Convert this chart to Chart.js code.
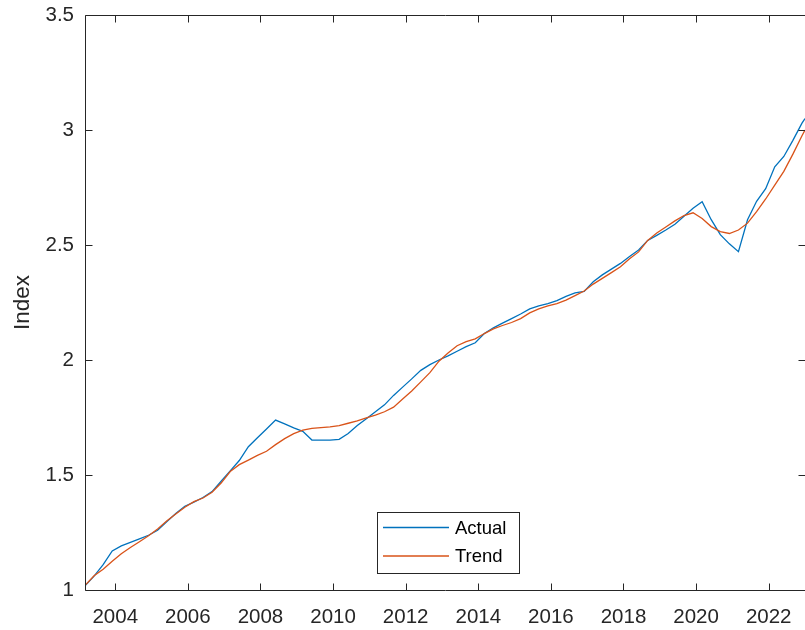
<!DOCTYPE html>
<html>
<head>
<meta charset="utf-8">
<script src="https://cdn.jsdelivr.net/npm/chart.js@4/dist/chart.umd.min.js"></script>
<style>
  html, body { margin: 0; padding: 0; background: #ffffff; overflow: hidden; }
  #wrap { width: 805px; height: 630px; overflow: hidden; }
  canvas { display: block; }
</style>
</head>
<body>
<div id="wrap"><canvas id="c" width="806" height="630"></canvas></div>
<script>
// Quarterly observation months (YYYY-MM)
const dates = [
  "2003-03","2003-06","2003-09","2003-12",
  "2004-03","2004-06","2004-09","2004-12",
  "2005-03","2005-06","2005-09","2005-12",
  "2006-03","2006-06","2006-09","2006-12",
  "2007-03","2007-06","2007-09","2007-12",
  "2008-03","2008-06","2008-09","2008-12",
  "2009-03","2009-06","2009-09","2009-12",
  "2010-03","2010-06","2010-09","2010-12",
  "2011-03","2011-06","2011-09","2011-12",
  "2012-03","2012-06","2012-09","2012-12",
  "2013-03","2013-06","2013-09","2013-12",
  "2014-03","2014-06","2014-09","2014-12",
  "2015-03","2015-06","2015-09","2015-12",
  "2016-03","2016-06","2016-09","2016-12",
  "2017-03","2017-06","2017-09","2017-12",
  "2018-03","2018-06","2018-09","2018-12",
  "2019-03","2019-06","2019-09","2019-12",
  "2020-03","2020-06","2020-09","2020-12",
  "2021-03","2021-06","2021-09","2021-12",
  "2022-03","2022-06","2022-09","2022-12",
  "2023-01"
];

const actual = [
  1.018, 1.060, 1.110, 1.170,
  1.192, 1.207, 1.222, 1.238,
  1.260, 1.297, 1.333, 1.364,
  1.382, 1.402, 1.428, 1.473,
  1.518, 1.563, 1.623, 1.662,
  1.700, 1.739, 1.722, 1.705,
  1.690, 1.652, 1.652, 1.652,
  1.655, 1.680, 1.715, 1.745,
  1.775, 1.805, 1.846, 1.882,
  1.918, 1.955, 1.980, 2.000,
  2.018, 2.038, 2.058, 2.075,
  2.115, 2.140, 2.160, 2.180,
  2.200, 2.222, 2.235, 2.245,
  2.258, 2.277, 2.292, 2.298,
  2.340, 2.370, 2.395, 2.420,
  2.450, 2.478, 2.520, 2.542,
  2.565, 2.590, 2.625, 2.660,
  2.688, 2.610, 2.545, 2.505,
  2.471, 2.610, 2.690, 2.745,
  2.840, 2.885, 2.955, 3.030,
  3.050
];

const trend = [
  1.020, 1.062, 1.090, 1.125,
  1.158, 1.185, 1.210, 1.236,
  1.265, 1.300, 1.330, 1.360,
  1.384, 1.400, 1.425, 1.465,
  1.515, 1.545, 1.565, 1.585,
  1.603, 1.632, 1.658, 1.680,
  1.695, 1.703, 1.706, 1.709,
  1.715, 1.725, 1.735, 1.748,
  1.760, 1.775, 1.795, 1.830,
  1.865, 1.905, 1.945, 1.995,
  2.030, 2.062, 2.080, 2.092,
  2.115, 2.135, 2.150, 2.163,
  2.180, 2.205, 2.222, 2.235,
  2.245, 2.260, 2.280, 2.300,
  2.330, 2.355, 2.380, 2.405,
  2.440, 2.470, 2.520, 2.552,
  2.578, 2.605, 2.628, 2.640,
  2.615, 2.580, 2.558, 2.550,
  2.565, 2.595, 2.645, 2.700,
  2.760, 2.820, 2.895, 2.975,
  3.000
];

const xTicks = [2004, 2006, 2008, 2010, 2012, 2014, 2016, 2018, 2020, 2022];
const yTicks = [1, 1.5, 2, 2.5, 3, 3.5];
const seriesNames = ["Actual", "Trend"];

function toYear(s) {
  const [y, m] = s.split("-").map(Number);
  return y + (m - 1) / 12;
}
const xs = dates.map(toYear);

const AXIS = "#262626";
const FONT = "'Liberation Sans', Arial, Helvetica, sans-serif";

const boxPlugin = {
  id: "matlabBox",
  afterDraw(chart) {
    const ctx = chart.ctx;
    const { left, right, top, bottom } = chart.chartArea;
    const sx = chart.scales.x, sy = chart.scales.y;
    ctx.save();
    ctx.strokeStyle = AXIS;
    ctx.lineWidth = 1;
    const L = Math.round(left) + 0.5, R = Math.round(right) + 0.5;
    const T = Math.round(top) + 0.5, B = Math.round(bottom) + 0.5;
    ctx.beginPath();
    ctx.moveTo(L, T); ctx.lineTo(R, T); ctx.lineTo(R, B); ctx.lineTo(L, B); ctx.closePath();
    ctx.stroke();
    ctx.beginPath();
    sx.ticks.forEach(t => {
      const px = Math.round(sx.getPixelForValue(t.value)) + 0.5;
      ctx.moveTo(px, B); ctx.lineTo(px, B - 7);
      ctx.moveTo(px, T); ctx.lineTo(px, T + 7);
    });
    sy.ticks.forEach(t => {
      const py = Math.round(sy.getPixelForValue(t.value)) + 0.5;
      ctx.moveTo(L, py); ctx.lineTo(L + 7, py);
      ctx.moveTo(R, py); ctx.lineTo(R - 7, py);
    });
    ctx.stroke();

    // legend
    const bx = 377.5, by = 512.5, bw = 142, bh = 61;
    ctx.fillStyle = "#ffffff";
    ctx.fillRect(bx, by, bw, bh);
    ctx.strokeStyle = AXIS;
    ctx.strokeRect(bx, by, bw, bh);
    const rows = [527.5, 556];
    chart.data.datasets.forEach((ds, i) => {
      const yy = rows[i];
      ctx.strokeStyle = ds.borderColor;
      ctx.lineWidth = 1.3;
      ctx.beginPath();
      ctx.moveTo(383, yy); ctx.lineTo(449, yy);
      ctx.stroke();
      ctx.fillStyle = "#000000";
      ctx.font = "18.5px " + FONT;
      ctx.textAlign = "left";
      ctx.textBaseline = "middle";
      ctx.fillText(ds.label, 455, yy + 1);
    });
    ctx.restore();
  }
};

new Chart(document.getElementById("c"), {
  type: "line",
  data: {
    datasets: [
      {
        label: seriesNames[0],
        data: xs.map((x, i) => ({ x: x, y: actual[i] })),
        borderColor: "#0072BD",
        borderWidth: 1.3,
        pointRadius: 0,
        tension: 0,
        fill: false,
        order: 1
      },
      {
        label: seriesNames[1],
        data: xs.map((x, i) => ({ x: x, y: trend[i] })),
        borderColor: "#D95319",
        borderWidth: 1.3,
        pointRadius: 0,
        tension: 0,
        fill: false,
        order: 0
      }
    ]
  },
  options: {
    responsive: false,
    devicePixelRatio: 1,
    animation: false,
    layout: { padding: { top: 15, right: 1, left: 0, bottom: 0 } },
    plugins: {
      legend: { display: false },
      tooltip: { enabled: false },
      title: { display: false }
    },
    scales: {
      x: {
        type: "linear",
        min: toYear("2003-03"),
        max: toYear("2023-01"),
        afterBuildTicks: s => { s.ticks = xTicks.map(v => ({ value: v })); },
        afterFit: s => { s.height = 40; s.paddingLeft = 0; s.paddingRight = 0; },
        grid: { display: false, drawTicks: false },
        border: { display: false },
        ticks: {
          autoSkip: false,
          maxRotation: 0,
          padding: 15,
          color: AXIS,
          font: { family: FONT, size: 20.5 },
          callback: v => String(v)
        }
      },
      y: {
        type: "linear",
        min: 1,
        max: 3.5,
        afterBuildTicks: s => { s.ticks = yTicks.map(v => ({ value: v })); },
        afterFit: s => { s.width = 85; s.paddingTop = 0; s.paddingBottom = 0; },
        grid: { display: false, drawTicks: false },
        border: { display: false },
        ticks: {
          padding: 11,
          color: AXIS,
          font: { family: FONT, size: 20.5 },
          callback: v => String(v)
        },
        title: {
          display: true,
          text: "Index",
          color: AXIS,
          font: { family: FONT, size: 22.5 },
          padding: { top: 9, bottom: 0 }
        }
      }
    }
  },
  plugins: [boxPlugin]
});
</script>
</body>
</html>
